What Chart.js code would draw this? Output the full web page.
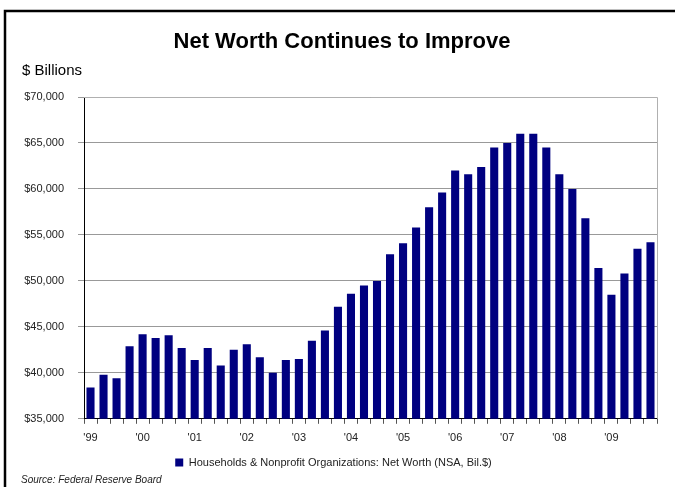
<!DOCTYPE html>
<html>
<head>
<meta charset="utf-8">
<script src="https://cdn.jsdelivr.net/npm/chart.js@4.4.1/dist/chart.umd.min.js"></script>
<style>
  html, body { margin: 0; padding: 0; background: #fff; }
  #wrap { width: 675px; height: 487px; position: relative; }
</style>
</head>
<body>
<div id="wrap"><canvas id="worth"></canvas></div>
<script>
// quarterly, 1999 Q1 .. 2009 Q4
const years = ["'99", "'00", "'01", "'02", "'03", "'04", "'05", "'06", "'07", "'08", "'09"];
const quarters = ["Q1", "Q2", "Q3", "Q4"];
const netWorth = [
  38400, 39800, 39400, 42900,
  44200, 43800, 44100, 42700,
  41400, 42700, 40800, 42500,
  43100, 41700, 40000, 41400,
  41500, 43500, 44600, 47200,
  48600, 49500, 50000, 52900,
  54100, 55800, 58000, 59600,
  62000, 61600, 62400, 64500,
  65000, 66000, 66000, 64500,
  61600, 60000, 56800, 51400,
  48500, 50800, 53500, 54200
];
const yTicks = [35000, 40000, 45000, 50000, 55000, 60000, 65000, 70000];

const seriesName = "Households & Nonprofit Organizations: Net Worth (NSA, Bil.$)";
const titleText = "Net Worth Continues to Improve";
const unitText = "$ Billions";
const sourceText = "Source: Federal Reserve Board";

const categories = [];
years.forEach(y => quarters.forEach(q => categories.push(q + " " + y)));

const FONT = "'Liberation Sans', Arial, sans-serif";

// frame, title, unit label, source note, plot border
const decor = {
  id: "decor",
  beforeDraw(chart) {
    const c = chart.ctx;
    c.save();
    c.fillStyle = "#fff";
    c.fillRect(0, 0, chart.width, chart.height);
    c.strokeStyle = "#000";
    c.lineWidth = 2.5;
    c.beginPath();
    c.moveTo(5, chart.height);
    c.lineTo(5, 11);
    c.lineTo(chart.width, 11);
    c.stroke();
    c.restore();
  },
  afterDraw(chart) {
    const c = chart.ctx;
    const a = chart.chartArea;
    c.save();
    c.strokeStyle = "#b0b0b0";
    c.lineWidth = 1;
    c.beginPath();
    c.moveTo(a.left, a.top + 0.5);
    c.lineTo(a.right + 0.5, a.top + 0.5);
    c.lineTo(a.right + 0.5, a.bottom);
    c.stroke();

    c.fillStyle = "#000";
    c.textAlign = "center";
    c.textBaseline = "middle";
    c.font = "bold 22px " + FONT;
    c.fillText(titleText, 342, 42);

    c.textAlign = "left";
    c.font = "15px " + FONT;
    c.fillText(unitText, 22, 71);

    c.font = "italic 10px " + FONT;
    c.fillStyle = "#222";
    c.fillText(sourceText, 21, 480);
    c.restore();
  }
};

new Chart(document.getElementById("worth"), {
  type: "bar",
  data: {
    labels: categories,
    datasets: [{
      label: seriesName,
      data: netWorth,
      backgroundColor: "#000080",
      borderWidth: 0,
      barPercentage: 0.62,
      categoryPercentage: 1
    }]
  },
  options: {
    responsive: true,
    maintainAspectRatio: false,
    animation: false,
    layout: { padding: { left: 10, right: 18, top: 97, bottom: 9 } },
    plugins: {
      title: { display: false },
      tooltip: { enabled: false },
      legend: {
        position: "bottom",
        labels: {
          boxWidth: 8,
          boxHeight: 8,
          padding: 4,
          color: "#222",
          font: { family: FONT, size: 11 }
        }
      }
    },
    scales: {
      x: {
        offset: true,
        grid: {
          offset: true,
          drawOnChartArea: false,
          drawTicks: true,
          tickLength: 5,
          color: "#555"
        },
        border: { color: "#000", width: 1 },
        ticks: {
          autoSkip: false,
          maxRotation: 0,
          padding: 8,
          color: "#222",
          font: { family: FONT, size: 11 },
          callback: (v, i) => (i % 4 === 0 ? years[i / 4] : "")
        }
      },
      y: {
        min: yTicks[0],
        max: yTicks[yTicks.length - 1],
        afterFit: s => { s.width = 74; },
        afterBuildTicks: s => { s.ticks = yTicks.map(v => ({ value: v })); },
        grid: {
          color: "#999",
          tickLength: 6,
          drawTicks: true
        },
        border: { color: "#000", width: 1 },
        ticks: {
          padding: 14,
          color: "#222",
          font: { family: FONT, size: 11 },
          callback: v => "$" + v.toLocaleString("en-US")
        }
      }
    }
  },
  plugins: [decor]
});
</script>
</body>
</html>
